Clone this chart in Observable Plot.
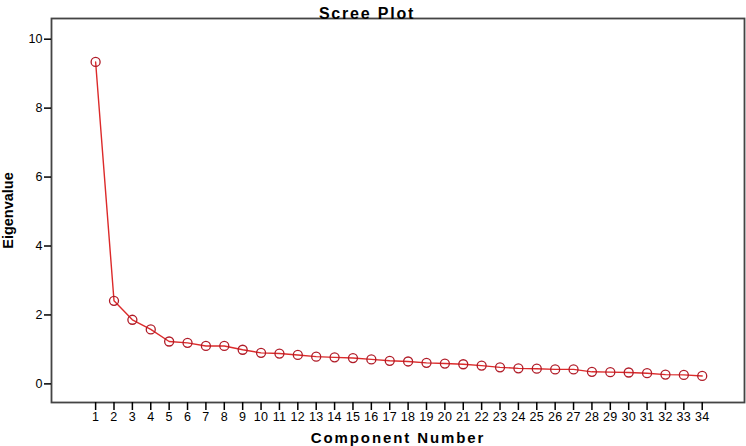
<!DOCTYPE html>
<html>
<head>
<meta charset="utf-8">
<script src="https://cdn.jsdelivr.net/npm/d3@7"></script>
<script src="https://cdn.jsdelivr.net/npm/@observablehq/plot@0.6"></script>
<style>
  html, body { margin: 0; padding: 0; background: #fff; }
  body { width: 746px; height: 446px; overflow: hidden; font-family: "Liberation Sans", Arial, sans-serif; }
</style>
</head>
<body>
<div id="chart"></div>
<script>
const title = "Scree Plot";
const xLabel = "Component Number";
const yLabel = "Eigenvalue";
const components = d3.range(1, 35);
const eigenvalues = [9.34, 2.41, 1.86, 1.58, 1.23, 1.19, 1.10, 1.10, 0.99, 0.90,
                     0.88, 0.84, 0.79, 0.77, 0.75, 0.71, 0.67, 0.65, 0.61, 0.59,
                     0.57, 0.53, 0.48, 0.45, 0.44, 0.42, 0.42, 0.35, 0.34, 0.33,
                     0.31, 0.27, 0.26, 0.23];
const yTicks = [0, 2, 4, 6, 8, 10];

const data = components.map((c, i) => ({component: c, eigenvalue: eigenvalues[i]}));

const chart = Plot.plot({
  width: 746,
  height: 446,
  marginLeft: 51,
  marginTop: 18,
  marginRight: 2,
  marginBottom: 44,
  style: {fontFamily: "'Liberation Sans', Arial, sans-serif", fontSize: "12px", color: "#000", background: "#fff"},
  x: {domain: [-1.4, 36.3]},
  y: {domain: [-0.54, 10.6]},
  marks: [
    Plot.frame({stroke: "#444", strokeWidth: 1.8}),
    Plot.axisY({ticks: yTicks, tickSize: 7, tickPadding: 2, strokeWidth: 1.5, fontSize: 12.5,
      label: yLabel, labelArrow: "none", labelAnchor: "center", labelOffset: 49}),
    Plot.axisX({ticks: components, tickFormat: d => String(d), tickSize: 8, tickPadding: 2, strokeWidth: 1.5, fontSize: 12.5,
      label: xLabel, labelArrow: "none", labelAnchor: "center", labelOffset: 40}),
    Plot.text([title], {frameAnchor: "top", dy: -11, dx: -31, fontSize: 16, fontWeight: "bold", fill: "#000"}),
    Plot.line(data, {x: "component", y: "eigenvalue", stroke: "#dc2a2a", strokeWidth: 1.4}),
    Plot.dot(data, {x: "component", y: "eigenvalue", r: 4.5, stroke: "#b01c28", strokeWidth: 1.3, fill: "none"})
  ]
});
document.getElementById("chart").appendChild(chart);

const svg = d3.select(chart);
// strip any label arrows
svg.selectAll("[aria-label='x-axis label'] text, [aria-label='y-axis label'] text")
  .each(function() { this.textContent = this.textContent.replace(/\s*[→↑←↓]\s*/g, "").trim(); })
  .attr("font-weight", "bold").attr("font-size", 14.5);
svg.selectAll("[aria-label='x-axis label'] text").attr("font-size", 15).attr("letter-spacing", "1.9px");
svg.selectAll("[aria-label='x-axis tick label'] text").attr("letter-spacing", "0.3px");
svg.selectAll("[aria-label='text'] text").attr("letter-spacing", "1.8px");
</script>
</body>
</html>
